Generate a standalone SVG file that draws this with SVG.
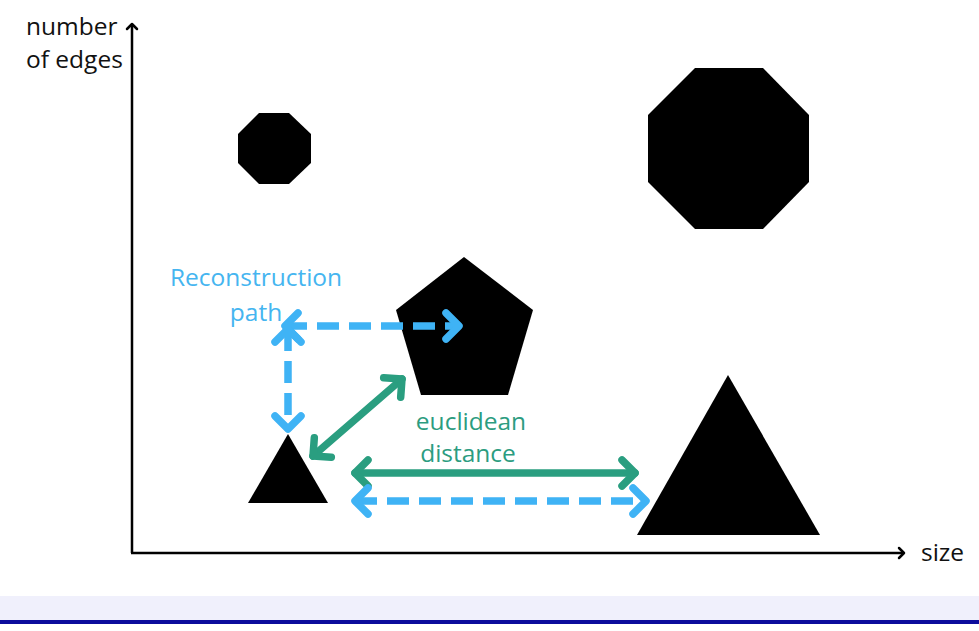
<svg xmlns="http://www.w3.org/2000/svg" width="979" height="631" viewBox="0 0 979 631">
<defs>
<style>
.shape{fill:#000}
.axis{stroke:#000;stroke-width:2.5;fill:none}
.lbl{font-family:"Open Sans","DejaVu Sans",sans-serif;font-size:24.5px}
.blk{fill:#111}
.blue{fill:#45b5f0}
.green{fill:#2c9c80}
.ab{stroke:#3fb3f5;stroke-width:7.5;fill:none;stroke-dasharray:22 10}
.ag{stroke:#2a9e80;stroke-width:7.5;fill:none;stroke-linecap:round}
</style>
<marker id="hb" markerUnits="userSpaceOnUse" markerWidth="40" markerHeight="40" refX="20" refY="20" orient="auto-start-reverse" overflow="visible">
<path d="M7,7 L20,20 L7,33" fill="none" stroke="#3fb3f5" stroke-width="7.5" stroke-linecap="round" stroke-linejoin="round"/>
</marker>
<marker id="hg" markerUnits="userSpaceOnUse" markerWidth="40" markerHeight="40" refX="20" refY="20" orient="auto-start-reverse" overflow="visible">
<path d="M7,7 L20,20 L7,33" fill="none" stroke="#2a9e80" stroke-width="7.5" stroke-linecap="round" stroke-linejoin="round"/>
</marker>
<marker id="hk" markerUnits="userSpaceOnUse" markerWidth="20" markerHeight="20" refX="10" refY="10" orient="auto" overflow="visible">
<path d="M5,5 L10,10 L5,15" fill="none" stroke="#000" stroke-width="2.5" stroke-linecap="round" stroke-linejoin="round"/>
</marker>
</defs>
<rect width="979" height="631" fill="#fff"/>
<rect x="0" y="596" width="979" height="24" fill="#f0f0fc"/>
<rect x="0" y="620" width="979" height="4" fill="#0c0c9c"/>
<g id="axes">
<path class="axis" d="M132,553 L132,24" marker-end="url(#hk)"/>
<path class="axis" d="M131,553 L904,553" marker-end="url(#hk)"/>
<text class="lbl blk" x="26" y="35">number</text>
<text class="lbl blk" x="26" y="68">of edges</text>
<text class="lbl blk" x="921" y="561">size</text>
</g>
<g id="small-octagon"><polygon class="shape" points="259,113 289,113 311,134 311,163 289,184 259,184 238,163 238,134"/></g>
<g id="large-octagon"><polygon class="shape" points="695,68 763,68 809,115 809,182 763,229 695,229 648,182 648,115"/></g>
<g id="pentagon"><polygon class="shape" points="464,257 533,310 508,395 421,395 396,310"/></g>
<g id="small-triangle"><polygon class="shape" points="288,434 328,503 248,503"/></g>
<g id="large-triangle"><polygon class="shape" points="728,375 820,535 637,535"/></g>
<g id="connectors">
<path class="ab" d="M288,329 L288,429" marker-start="url(#hb)" marker-end="url(#hb)"/>
<path class="ab" d="M285,326 L459,326" marker-start="url(#hb)" marker-end="url(#hb)"/>
<path class="ag" d="M313,456 L402,379" marker-start="url(#hg)" marker-end="url(#hg)"/>
<path class="ag" d="M355,473 L635,473" marker-start="url(#hg)" marker-end="url(#hg)"/>
<path class="ab" d="M355,501 L646,501" marker-start="url(#hb)" marker-end="url(#hb)"/>
</g>
<g id="labels">
<text class="lbl blue" x="256" y="286" text-anchor="middle">Reconstruction</text>
<text class="lbl blue" x="256" y="321" text-anchor="middle">path</text>
<text class="lbl green" x="471" y="430" text-anchor="middle">euclidean</text>
<text class="lbl green" x="468" y="462" text-anchor="middle">distance</text>
</g>
</svg>
